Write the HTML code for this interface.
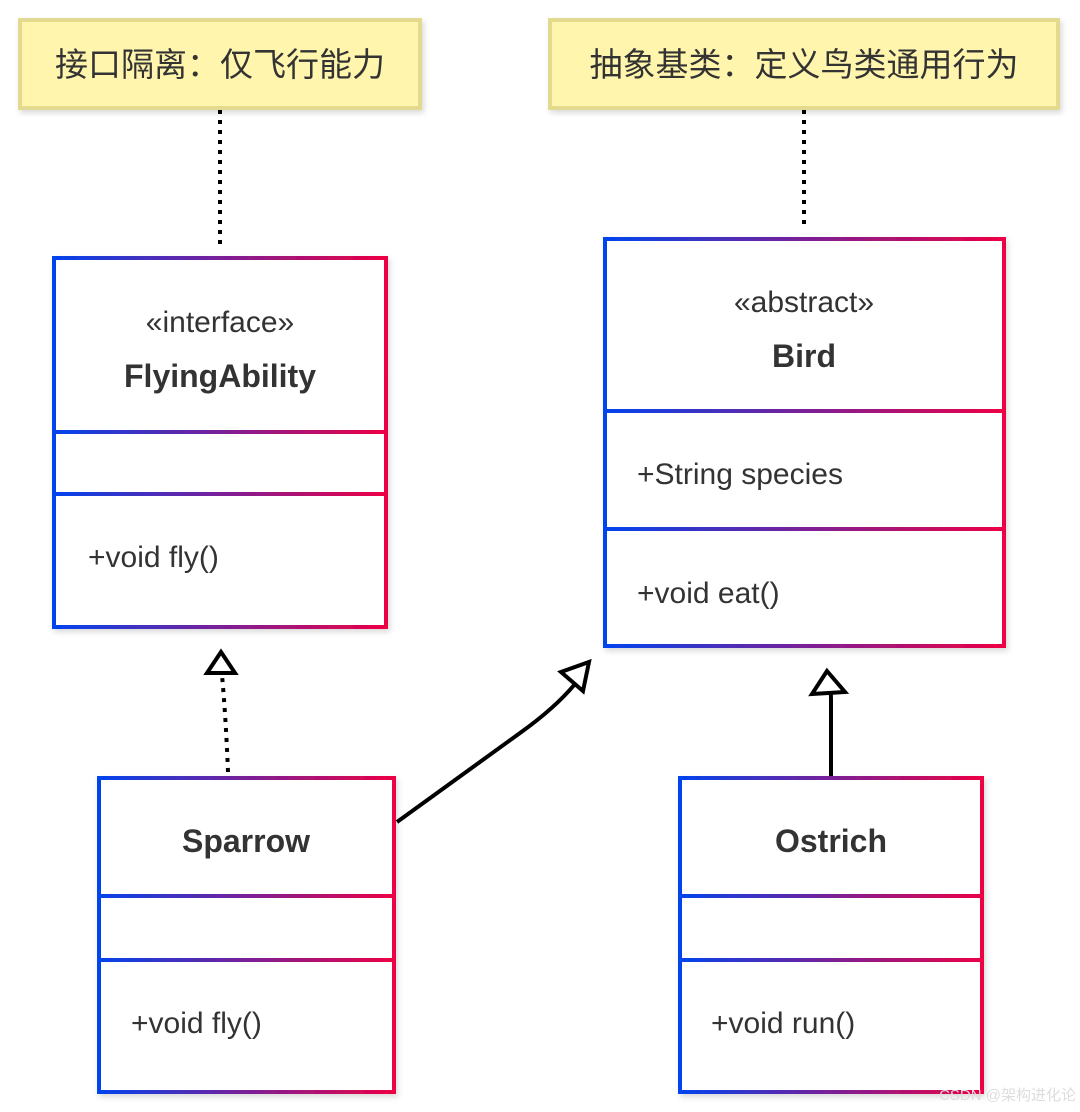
<!DOCTYPE html>
<html><head><meta charset="utf-8"><style>
html,body{margin:0;padding:0;background:#fff;width:1080px;height:1112px;overflow:hidden}
text{font-family:"Liberation Sans","Noto Sans CJK SC",sans-serif;fill:#333}
</style></head><body>
<svg width="1080" height="1112" viewBox="0 0 1080 1112" xmlns="http://www.w3.org/2000/svg">
<defs>
<linearGradient id="g1" gradientUnits="userSpaceOnUse" x1="53" y1="0" x2="387" y2="0"><stop offset="0" stop-color="#0044ee"/><stop offset="0.5" stop-color="#7a2098"/><stop offset="1" stop-color="#ee0044"/></linearGradient>
<linearGradient id="g2" gradientUnits="userSpaceOnUse" x1="604" y1="0" x2="1005" y2="0"><stop offset="0" stop-color="#0044ee"/><stop offset="0.5" stop-color="#7a2098"/><stop offset="1" stop-color="#ee0044"/></linearGradient>
<linearGradient id="g3" gradientUnits="userSpaceOnUse" x1="98" y1="0" x2="395" y2="0"><stop offset="0" stop-color="#0044ee"/><stop offset="0.5" stop-color="#7a2098"/><stop offset="1" stop-color="#ee0044"/></linearGradient>
<linearGradient id="g4" gradientUnits="userSpaceOnUse" x1="679" y1="0" x2="983" y2="0"><stop offset="0" stop-color="#0044ee"/><stop offset="0.5" stop-color="#7a2098"/><stop offset="1" stop-color="#ee0044"/></linearGradient>
<filter id="sh" x="-5%" y="-5%" width="115%" height="115%"><feDropShadow dx="2" dy="3" stdDeviation="3" flood-color="#000" flood-opacity="0.15"/></filter>
</defs>

<!-- notes -->
<rect x="20" y="20" width="400" height="88" fill="#fff5ad" stroke="#e3d98f" stroke-width="4" filter="url(#sh)"/>
<text x="220" y="76" font-size="33" text-anchor="middle">接口隔离：仅飞行能力</text>
<rect x="550" y="20" width="508" height="88" fill="#fff5ad" stroke="#e3d98f" stroke-width="4" filter="url(#sh)"/>
<text x="804" y="76" font-size="33" text-anchor="middle">抽象基类：定义鸟类通用行为</text>

<line x1="220" y1="110" x2="220" y2="250" stroke="#000" stroke-width="4" stroke-dasharray="4 6"/>
<line x1="804" y1="110" x2="804" y2="230" stroke="#000" stroke-width="4" stroke-dasharray="4 6"/>

<!-- FlyingAbility -->
<g filter="url(#sh)"><rect x="54" y="258" width="332" height="369" fill="#fff" stroke="url(#g1)" stroke-width="4"/></g>
<line x1="54" y1="432" x2="386" y2="432" stroke="url(#g1)" stroke-width="4"/>
<line x1="54" y1="494" x2="386" y2="494" stroke="url(#g1)" stroke-width="4"/>
<text x="220" y="332" font-size="30" text-anchor="middle">«interface»</text>
<text x="220" y="387" font-size="32" font-weight="bold" text-anchor="middle">FlyingAbility</text>
<text x="88" y="567" font-size="30">+void fly()</text>

<!-- Bird -->
<g filter="url(#sh)"><rect x="605" y="239" width="399" height="407" fill="#fff" stroke="url(#g2)" stroke-width="4"/></g>
<line x1="605" y1="411" x2="1004" y2="411" stroke="url(#g2)" stroke-width="4"/>
<line x1="605" y1="529" x2="1004" y2="529" stroke="url(#g2)" stroke-width="4"/>
<text x="804" y="312" font-size="30" text-anchor="middle">«abstract»</text>
<text x="804" y="367" font-size="32" font-weight="bold" text-anchor="middle">Bird</text>
<text x="637" y="484" font-size="30">+String species</text>
<text x="637" y="603" font-size="30">+void eat()</text>

<!-- Sparrow -->
<g filter="url(#sh)"><rect x="99" y="778" width="295" height="314" fill="#fff" stroke="url(#g3)" stroke-width="4"/></g>
<line x1="99" y1="896" x2="394" y2="896" stroke="url(#g3)" stroke-width="4"/>
<line x1="99" y1="960" x2="394" y2="960" stroke="url(#g3)" stroke-width="4"/>
<text x="246" y="852" font-size="32" font-weight="bold" text-anchor="middle">Sparrow</text>
<text x="131" y="1033" font-size="30">+void fly()</text>

<!-- Ostrich -->
<g filter="url(#sh)"><rect x="680" y="778" width="302" height="314" fill="#fff" stroke="url(#g4)" stroke-width="4"/></g>
<line x1="680" y1="896" x2="982" y2="896" stroke="url(#g4)" stroke-width="4"/>
<line x1="680" y1="960" x2="982" y2="960" stroke="url(#g4)" stroke-width="4"/>
<text x="831" y="852" font-size="32" font-weight="bold" text-anchor="middle">Ostrich</text>
<text x="711" y="1033" font-size="30">+void run()</text>

<!-- connectors -->
<path d="M228 772 Q226 720 222 675" fill="none" stroke="#000" stroke-width="4" stroke-dasharray="4 6"/>
<polygon points="221,652 235,673 207,673" fill="#fff" stroke="#000" stroke-width="4" stroke-linejoin="miter"/>
<path d="M397 822 L520 733 Q555 708 575 684" fill="none" stroke="#000" stroke-width="4"/>
<polygon points="589,662 583,691 561,672" fill="#fff" stroke="#000" stroke-width="4"/>
<path d="M831 776 L831 700 Q831 692 830 690" fill="none" stroke="#000" stroke-width="4"/>
<polygon points="827,671 845,692 812,694" fill="#fff" stroke="#000" stroke-width="4"/>

<text x="1076" y="1100" font-size="15" text-anchor="end" style="fill:#ddd">CSDN @架构进化论</text>
</svg>
</body></html>
